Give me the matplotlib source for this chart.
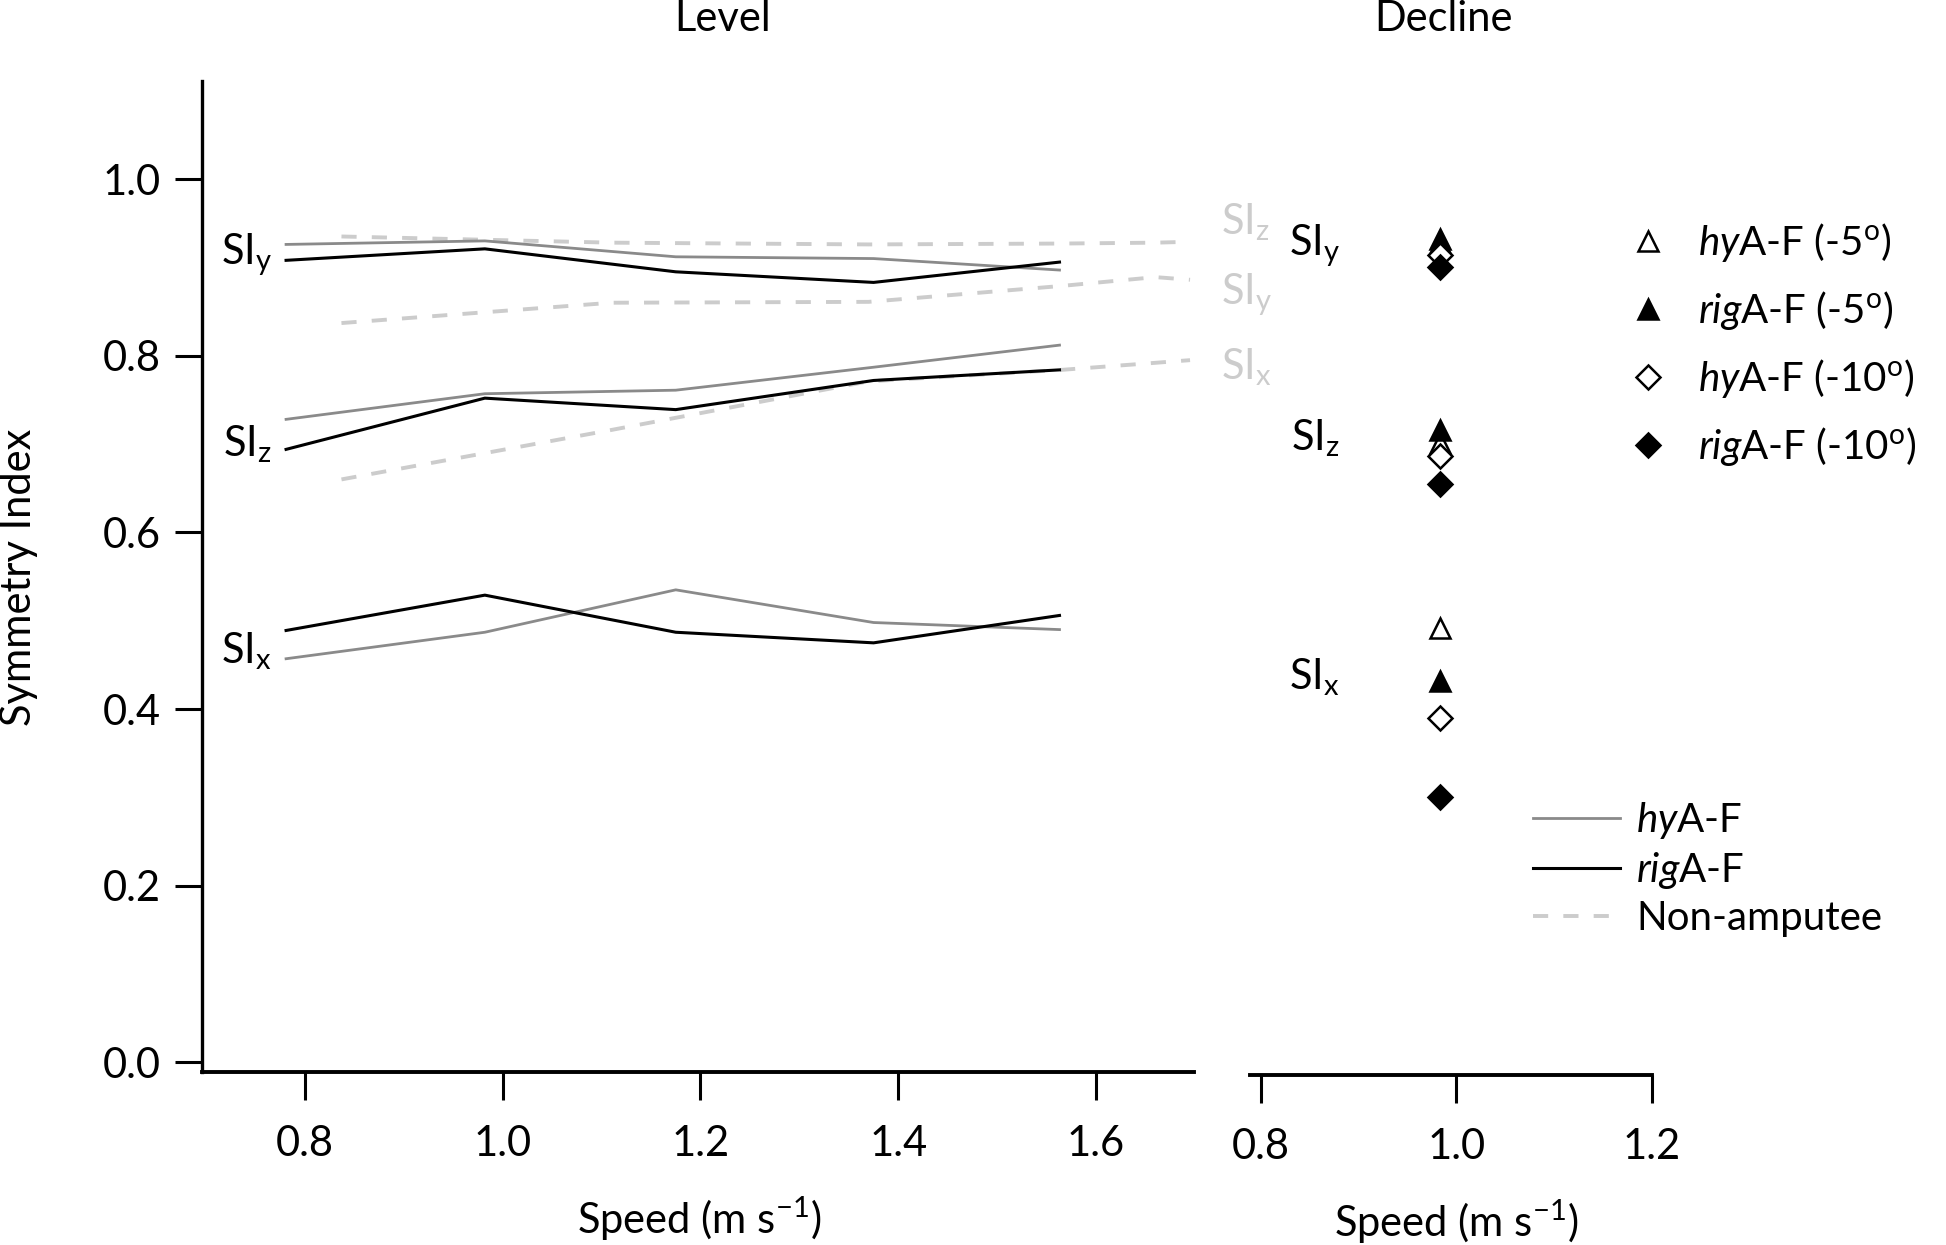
import matplotlib
matplotlib.use("Agg")
import matplotlib.pyplot as plt

FONT = "Lato"
plt.rcParams["font.family"] = [FONT, "DejaVu Sans"]
plt.rcParams["mathtext.fontset"] = "custom"
plt.rcParams["mathtext.rm"] = FONT
plt.rcParams["mathtext.it"] = FONT + ":italic"
plt.rcParams["mathtext.default"] = "regular"

# ---------------- data ----------------
# Level walking (amputee groups)
speed_amp = [0.781, 0.982, 1.175, 1.375, 1.563]
hy_SIy = [0.926, 0.930, 0.912, 0.910, 0.897]
rig_SIy = [0.908, 0.921, 0.895, 0.883, 0.906]
hy_SIz = [0.728, 0.757, 0.761, 0.787, 0.812]
rig_SIz = [0.694, 0.752, 0.739, 0.772, 0.784]
hy_SIx = [0.457, 0.487, 0.535, 0.498, 0.490]
rig_SIx = [0.489, 0.529, 0.487, 0.475, 0.506]

# Level walking (non-amputee)
speed_nonamp = [0.837, 1.11, 1.37, 1.565, 1.66, 1.695]
nonamp_SIz = [0.935, 0.928, 0.926, 0.927, 0.928, 0.929]
nonamp_SIy = [0.837, 0.860, 0.861, 0.879, 0.889, 0.886]
nonamp_SIx = [0.660, 0.716, 0.771, 0.784, 0.792, 0.795]

# Decline walking, values ordered [SIx, SIy, SIz]
decline_speed = 0.983
decline_hy5 = [0.492, 0.928, 0.701]
decline_rig5 = [0.432, 0.932, 0.716]
decline_hy10 = [0.390, 0.914, 0.687]
decline_rig10 = [0.301, 0.900, 0.655]

level_xticks = [0.8, 1.0, 1.2, 1.4, 1.6]
decline_xticks = [0.8, 1.0, 1.2]
yticks = [0.0, 0.2, 0.4, 0.6, 0.8, 1.0]

# ---------------- styles ----------------
W, H = 1946, 1245
GRAY = "#8a8a8a"
LIGHT = "#cccccc"
TICK_FS = 15
LAB_FS = 15

fig = plt.figure(figsize=(W / 200, H / 200), dpi=200)

def fx(px):
    return px / W

def fy(py):
    return 1 - py / H

axL = fig.add_axes([fx(202), fy(1072), fx(1194 - 202), (1072 - 81) / H])
axR = fig.add_axes([fx(1250), fy(1072), fx(1652 - 1250), (1072 - 81) / H], sharey=axL)
axL.patch.set_visible(False)
axR.patch.set_visible(False)

# level lines
dash = (3.9, 3.9)
for vals in (nonamp_SIz, nonamp_SIy, nonamp_SIx):
    axL.plot(speed_nonamp, vals, color=LIGHT, lw=1.4, dashes=dash, zorder=1)
hyL = None
for vals in (hy_SIy, hy_SIz, hy_SIx):
    l, = axL.plot(speed_amp, vals, color=GRAY, lw=1.0, zorder=2)
    hyL = hyL or l
rigL = None
for vals in (rig_SIy, rig_SIz, rig_SIx):
    l, = axL.plot(speed_amp, vals, color="black", lw=1.1, zorder=3)
    rigL = rigL or l
nonL = axL.lines[0]

# labels inside level panel
for lab, yv in (("SI$_{y}$", 0.903), ("SI$_{z}$", 0.686), ("SI$_{x}$", 0.452)):
    axL.text(0.767, yv, lab, ha="right", va="baseline", fontsize=TICK_FS)
for lab, yv in (("SI$_{z}$", 0.937), ("SI$_{y}$", 0.858), ("SI$_{x}$", 0.773)):
    axL.text(1.726, yv, lab, ha="left", va="baseline", fontsize=TICK_FS,
             color=LIGHT, clip_on=False, zorder=5)

axL.set_xlim(0.696, 1.699)
axL.set_ylim(-0.0108, 1.111)
axL.set_xticks(level_xticks)
axL.set_xticklabels([f"{v:.1f}" for v in level_xticks])
axL.set_yticks(yticks)
axL.set_yticklabels([f"{v:.1f}" for v in yticks])
for s in ("top", "right"):
    axL.spines[s].set_visible(False)
axL.spines["left"].set_linewidth(1.2)
axL.spines["bottom"].set_linewidth(1.4)
axL.tick_params(axis="x", length=10, width=1.1, labelsize=TICK_FS, pad=9)
axL.tick_params(axis="y", length=9.6, width=1.1, labelsize=TICK_FS, pad=5.4)

# decline markers
ms_style = dict(linestyle="none", markeredgecolor="black", markeredgewidth=0.9)
pts = [decline_speed] * 3
h1, = axR.plot(pts, decline_hy5, marker="^", ms=7.5, markerfacecolor="white",
               label=r"$\it{hy}$A-F (-5$^{o}$)", **ms_style)
h2, = axR.plot(pts, decline_rig5, marker="^", ms=7.5, markerfacecolor="black",
               label=r"$\it{rig}$A-F (-5$^{o}$)", **ms_style)
h3, = axR.plot(pts, decline_hy10, marker="D", ms=6.0, markerfacecolor="white",
               label=r"$\it{hy}$A-F (-10$^{o}$)", **ms_style)
h4, = axR.plot(pts, decline_rig10, marker="D", ms=6.0, markerfacecolor="black",
               label=r"$\it{rig}$A-F (-10$^{o}$)", **ms_style)
for lab, yv in (("SI$_{y}$", 0.914), ("SI$_{z}$", 0.693), ("SI$_{x}$", 0.422)):
    axR.text(0.881, yv, lab, ha="right", va="baseline", fontsize=TICK_FS)

axR.set_xlim(0.789, 1.2)
axR.set_xticks(decline_xticks)
axR.set_xticklabels([f"{v:.1f}" for v in decline_xticks])
for s in ("top", "right", "left"):
    axR.spines[s].set_visible(False)
axR.spines["bottom"].set_linewidth(1.4)
axR.spines["bottom"].set_position(("outward", 1))
axR.tick_params(axis="x", length=10, width=1.1, labelsize=TICK_FS, pad=9)
axR.tick_params(axis="y", left=False, labelleft=False)

# legends
leg1 = fig.legend(handles=[h1, h2, h3, h4], loc="upper left",
                  bbox_to_anchor=(fx(1628), fy(221)), frameon=False,
                  fontsize=14.5, handlelength=1.0, handletextpad=0.75,
                  labelspacing=0.62, borderpad=0, borderaxespad=0)
leg2 = fig.legend(handles=[hyL, rigL, nonL], labels=[r"$\it{hy}$A-F", r"$\it{rig}$A-F", "Non-amputee"],
                  loc="upper left", bbox_to_anchor=(fx(1533), fy(800)), frameon=False,
                  fontsize=14.5, handlelength=2.16, handletextpad=0.4,
                  labelspacing=0.22, borderpad=0, borderaxespad=0)

# titles and axis labels
fig.text(fx(723), fy(19), "Level", ha="center", va="center", fontsize=LAB_FS)
fig.text(fx(1443), fy(19), "Decline", ha="center", va="center", fontsize=LAB_FS)
fig.text(fx(19), fy(577), "Symmetry Index", rotation=90, ha="center", va="center", fontsize=LAB_FS)
fig.text(fx(699), fy(1219), "Speed (m s$^{-1}$)", ha="center", va="center", fontsize=LAB_FS)
fig.text(fx(1456), fy(1222), "Speed (m s$^{-1}$)", ha="center", va="center", fontsize=LAB_FS)

fig.savefig("out.png", dpi=200)
